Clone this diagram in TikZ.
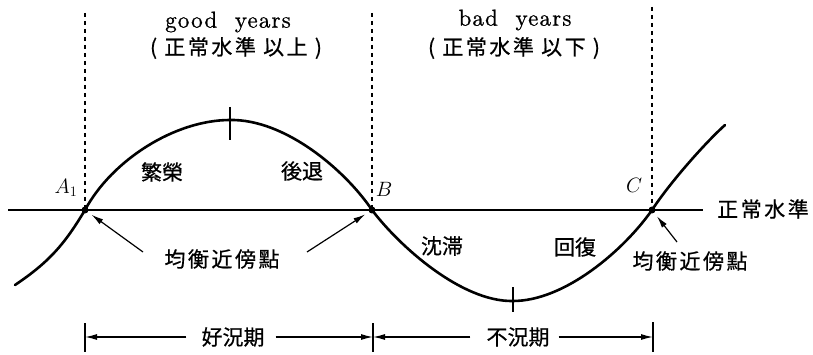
\documentclass[tikz,border=0pt]{standalone}
\usepackage{fontspec}
\newfontfamily\cjk{Noto Sans CJK JP}[FakeBold=0.6]
\newfontfamily\cjkw{Noto Sans CJK JP}[LetterSpace=12,FakeBold=0.6]
\newfontfamily\latsp{lmroman10-regular.otf}[LetterSpace=5,FakeBold=0.8]
\usetikzlibrary{arrows.meta}
\begin{document}
\begin{tikzpicture}[x=1pt,y=-1pt,
  curve/.style={line width=2.6pt, line join=round, line cap=round},
  base/.style={line width=1.4pt},
  vdash/.style={line width=1.2pt, dash pattern=on 4.5pt off 3.5pt},
  tick/.style={line width=1.4pt},
  ptr/.style={line width=1.2pt, -{Latex[length=12pt,width=6pt]}},
  dim/.style={line width=1.3pt, -{Latex[length=12pt,width=6pt]}},
  cjkt/.style={font=\cjk\fontsize{21}{24}\selectfont, inner sep=0pt},
  cjks/.style={font=\cjkw\fontsize{21}{24}\selectfont, inner sep=0pt},
  latt/.style={font=\latsp\fontsize{23}{25}\selectfont, inner sep=0pt},
  ptlab/.style={font=\fontsize{22}{24}\selectfont, inner sep=0pt}
]
\useasboundingbox (0,0) rectangle (813,355);
% key points
\coordinate (A) at (85,210);
\coordinate (B) at (372,210);
\coordinate (C) at (652,210);
\coordinate (P) at (230,120);
\coordinate (T) at (513,301);
\coordinate (S) at (15,285);
\coordinate (E) at (725,125);
\coordinate (L0) at (8,210);
\coordinate (L1) at (703,210);
% dashed verticals
\draw[vdash] (85,13) -- (A);
\draw[vdash] (372,13) -- (B);
\draw[vdash] (652,7) -- (C);
% normal level line
\draw[base] (L0) -- (L1);
% cycle curve
\draw[curve] (S) .. controls (50,261.5) and (65,243.4) .. (A)
  .. controls (112,160) and (175,120) .. (P)
  .. controls (285,119) and (345,170) .. (B)
  .. controls (400,247) and (462,302) .. (T)
  .. controls (565,301) and (624,250) .. (C)
  .. controls (670,182.5) and (705,143) .. (E);
% peak / trough ticks
\draw[tick] (230,107) -- (230,140);
\draw[tick] (513,287) -- (513,312);
% equilibrium dots
\fill (A) circle (3.5pt);
\fill (B) circle (3.5pt);
\fill (C) circle (3.5pt);
% headings
\node[latt] (gy) at (228,22) {good\ \ years};
\node[cjks] (gyj) at (236,48) {(\ 正常水準\ 以上\ )};
\node[latt] (by) at (515,20) {bad\ \ years};
\node[cjks] (byj) at (514,48) {(\ 正常水準\ 以下\ )};
% phase labels
\node[cjkt] (boom) at (162,172) {繁榮};
\node[cjkt] (rec) at (302,171) {後退};
\node[cjkt] (dep) at (442,246) {沈滞};
\node[cjkt] (recov) at (575,247) {回復};
\node[cjks] (norm) at (763,209) {正常水準};
% point labels
\node[ptlab] (lA) at (66,188) {$A_1$};
\node[ptlab] (lB) at (384,189) {$B$};
\node[ptlab] (lC) at (634,185) {$C$};
% equilibrium labels and pointers
\node[cjks] (eqL) at (222,259) {均衡近傍點};
\node[cjks] (eqR) at (690,261) {均衡近傍點};
\coordinate (aL) at (143,252);
\coordinate (aB) at (307,252);
\coordinate (aC) at (677,242);
\draw[ptr, shorten >=8pt] (aL) -- (A);
\draw[ptr, shorten >=8pt] (aB) -- (B);
\draw[ptr, shorten >=8pt] (aC) -- (C);
% period dimension lines
\coordinate (dA) at (85,337);
\coordinate (dB) at (373,337);
\coordinate (dC) at (653,337);
\draw[tick] (85,323) -- (85,352);
\draw[tick] (373,323) -- (373,352);
\draw[tick] (653,322) -- (653,352);
\node[cjkt] (good) at (233,337) {好況期};
\node[cjkt] (bad) at (518,337) {不況期};
\draw[dim, shorten <=15pt] (good.west) -- (dA);
\draw[dim, shorten <=11pt] (good.east) -- (dB);
\draw[dim, shorten <=16pt] (bad.west) -- (dB);
\draw[dim, shorten <=9pt] (bad.east) -- (dC);
\end{tikzpicture}
\end{document}
